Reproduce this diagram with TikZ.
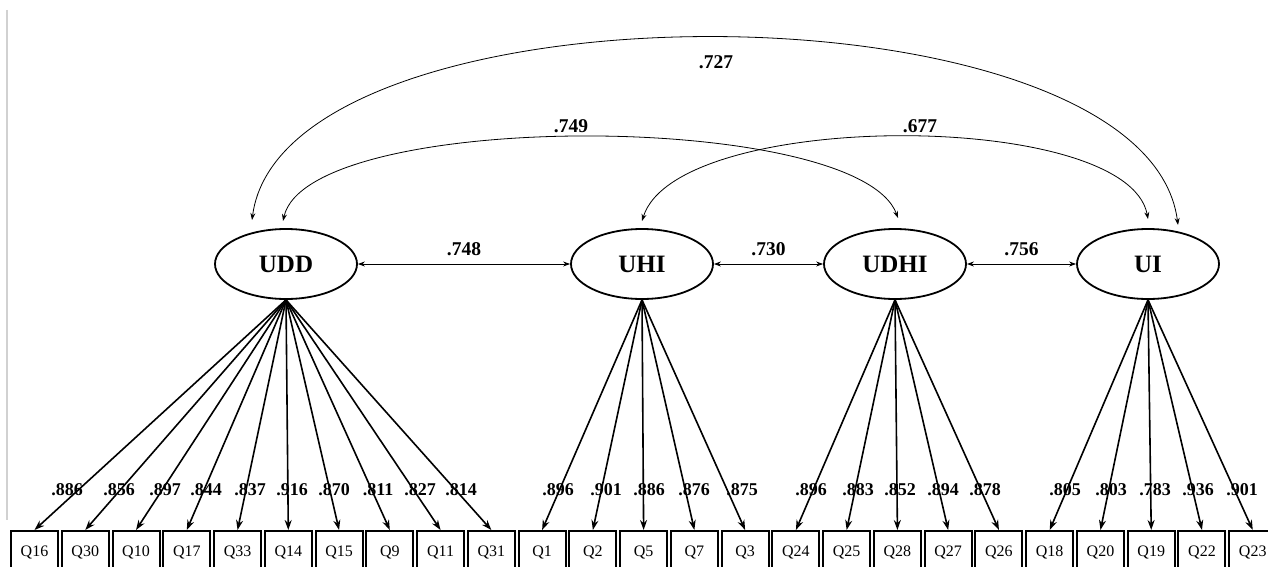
\documentclass[tikz,border=0pt]{standalone}
\usepackage{fontspec}
\setmainfont{Liberation Serif}
\usetikzlibrary{shapes.geometric,arrows.meta,calc}
\begin{document}
\begin{tikzpicture}[x=1pt,y=-1pt,
  lat/.style={ellipse,draw,line width=1.8pt,minimum width=142pt,minimum height=70pt,inner sep=0pt,font=\fontsize{25}{25}\selectfont\bfseries},
  obs/.style={rectangle,draw,line width=2pt,minimum width=47pt,minimum height=42pt,inner sep=0pt,font=\fontsize{16}{16}\selectfont},
  load/.style={line width=1.6pt,-{Stealth[length=10pt,width=7pt]}},
  cov/.style={line width=0.8pt,{Stealth[length=7pt,width=5pt]}-{Stealth[length=7pt,width=5pt]}},
  curv/.style={line width=0.8pt,{Stealth[length=7pt,width=5pt]}-{Stealth[length=7pt,width=5pt]}},
  lab/.style={font=\fontsize{18}{18}\selectfont\bfseries,inner sep=0pt},
  clab/.style={font=\fontsize{19.5}{19.5}\selectfont\bfseries,inner sep=0pt}]
\useasboundingbox (0,0) rectangle (1268,567);
\draw[black!18,line width=2pt] (7,10) -- (7,520);

% latent variables
\node[lat] (UDD) at (286,264) {UDD};
\node[lat] (UHI) at (642,264) {UHI};
\node[lat] (UDHI) at (895,264) {UDHI};
\node[lat] (UI) at (1148,264) {UI};

% observed variables
\foreach \q [count=\i from 0] in {Q16,Q30,Q10,Q17,Q33,Q14,Q15,Q9,Q11,Q31,Q1,Q2,Q5,Q7,Q3,Q24,Q25,Q28,Q27,Q26,Q18,Q20,Q19,Q22,Q23}
  \node[obs] (\q) at ({34.5+50.76*\i},552) {\q};

% horizontal covariances
\draw[cov] (UDD) -- (UHI) node[clab,midway,above=8pt] {.748};
\draw[cov] (UHI) -- (UDHI) node[clab,midway,above=8pt] {.730};
\draw[cov] (UDHI) -- (UI) node[clab,midway,above=8pt] {.756};

% curved covariances
\coordinate (a1) at ($(UDD)+(-34,-44)$);
\coordinate (a2) at ($(UI)+(30,-39)$);
\coordinate (b1) at ($(UDD)+(-3,-43)$);
\coordinate (b2) at ($(UDHI)+(3,-46)$);
\coordinate (c1) at ($(UHI)+(0,-43)$);
\coordinate (c2) at ($(UI)+(0,-45)$);
\draw[curv] (a1) .. controls ($(a1)+(32,-245)$) and ($(a2)+(-32,-248)$) .. (a2);
\draw[curv] (b1) .. controls ($(b1)+(25,-112)$) and ($(b2)+(-40,-108)$) .. (b2);
\draw[curv] (c1) .. controls ($(c1)+(35,-112)$) and ($(c2)+(-20,-110)$) .. (c2);
\node[clab] (l727) at (716,62) {.727};
\node[clab] (l749) at (571,126) {.749};
\node[clab] (l677) at (920,126) {.677};

% loadings
\foreach \q/\v/\x in {Q16/.886/67,Q30/.856/119,Q10/.897/165,Q17/.844/206,Q33/.837/250,Q14/.916/292,Q15/.870/334,Q9/.811/378,Q11/.827/420,Q31/.814/461}{
  \draw[load] (UDD.south) -- (\q.north);
  \node[lab] at (\x,490) {\v};}
\foreach \q/\v/\x in {Q1/.896/558,Q2/.901/606,Q5/.886/649,Q7/.876/694,Q3/.875/742}{
  \draw[load] (UHI.south) -- (\q.north);
  \node[lab] at (\x,490) {\v};}
\foreach \q/\v/\x in {Q24/.896/811,Q25/.883/858,Q28/.852/900,Q27/.894/943,Q26/.878/985}{
  \draw[load] (UDHI.south) -- (\q.north);
  \node[lab] at (\x,490) {\v};}
\foreach \q/\v/\x in {Q18/.805/1065,Q20/.803/1111,Q19/.783/1155,Q22/.936/1198,Q23/.901/1242}{
  \draw[load] (UI.south) -- (\q.north);
  \node[lab] at (\x,490) {\v};}
\end{tikzpicture}
\end{document}
